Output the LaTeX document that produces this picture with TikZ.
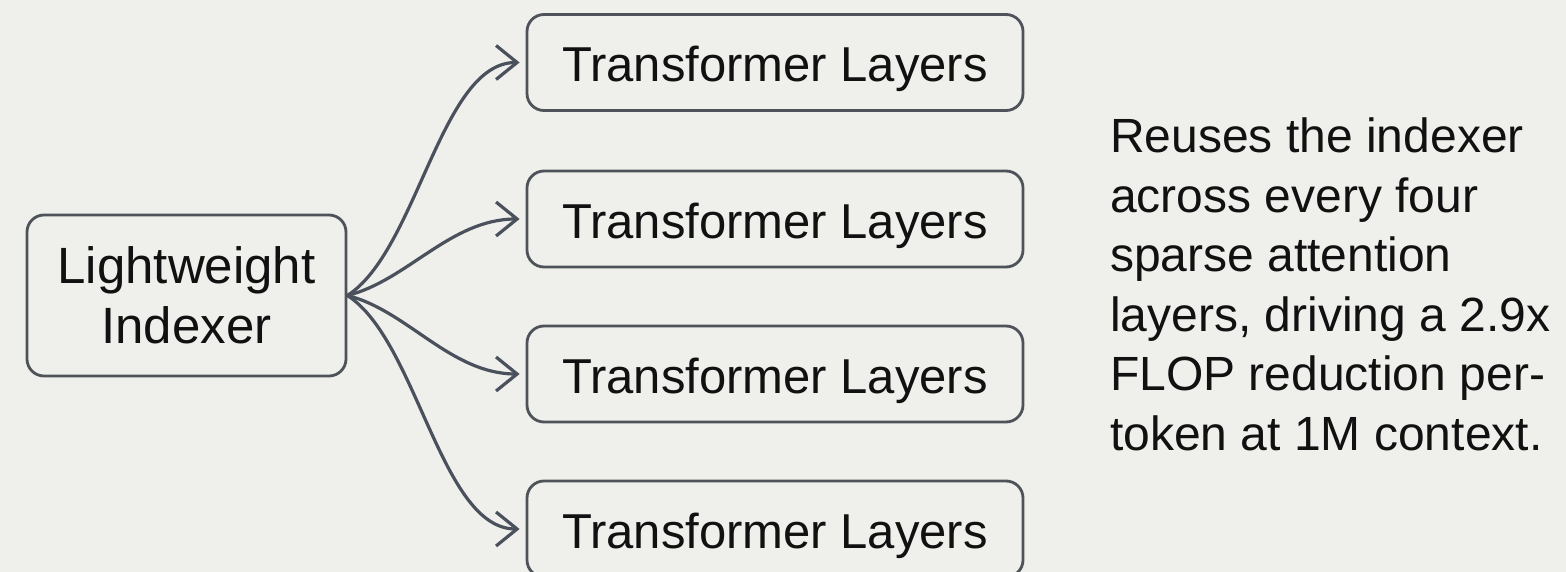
\documentclass[tikz,border=0pt]{standalone}
\usepackage{fontspec}
\setmainfont{Liberation Sans}
\usetikzlibrary{arrows.meta}
\definecolor{bg}{HTML}{EFEFEB}
\definecolor{edge}{HTML}{4E535A}
\definecolor{wire}{HTML}{4A515C}
\definecolor{ink}{HTML}{111111}
\begin{document}
\begin{tikzpicture}[x=1pt,y=-1pt,
  box/.style={draw=edge, line width=2.8pt, rounded corners=17pt, fill=bg,
    text=ink, inner sep=0pt},
  layer/.style={box, minimum width=496pt, minimum height=96pt,
    font=\fontsize{49}{60}\selectfont, text height=38pt, text depth=0pt},
  link/.style={draw=wire, line width=3.2pt,
    -{Straight Barb[length=21pt,width=34pt]}, shorten >=6pt}]
  % canvas
  \fill[bg] (0,0) rectangle (1566,572);
  \useasboundingbox (0,0) rectangle (1566,572);
  \clip (0,0) rectangle (1566,572);

  % indexer block
  \node[box, minimum width=319pt, minimum height=161pt, align=center,
    font=\fontsize{51}{60}\selectfont] (idx) at (186.5,295.5)
    {Lightweight\\Indexer};

  % stacked transformer layers
  \node[layer] (t1) at (775,62.5) {Transformer Layers};
  \node[layer] (t2) at (775,219) {Transformer Layers};
  \node[layer] (t3) at (775,374) {Transformer Layers};
  \node[layer] (t4) at (775,529) {Transformer Layers};

  % fan-out connectors
  \draw[link] (idx.east) .. controls +(70,-45) and +(-85,0) .. (t1.west);
  \draw[link] (idx.east) .. controls +(60,-15) and +(-75,0) .. (t2.west);
  \draw[link] (idx.east) .. controls +(60,15) and +(-75,0) .. (t3.west);
  \draw[link] (idx.east) .. controls +(70,45) and +(-85,0) .. (t4.west);

  % side note
  \node[anchor=north west, align=left, inner sep=0pt, text=ink,
    font=\fontsize{48}{59.5}\selectfont] (note) at (1110,118)
    {Reuses the indexer\\across every four\\sparse attention\\layers, driving a 2.9x\\FLOP reduction per-\\token at 1M context.};
\end{tikzpicture}
\end{document}
